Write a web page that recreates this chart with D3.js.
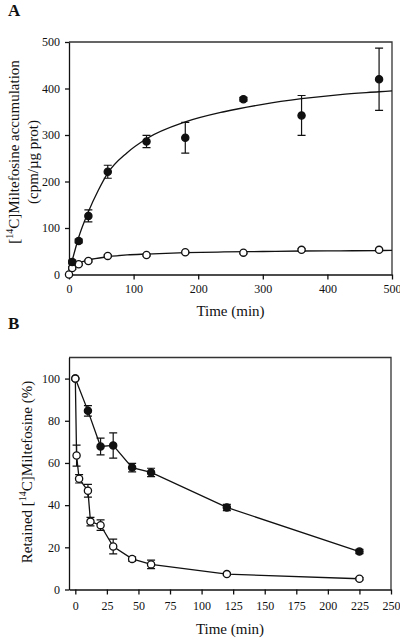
<!DOCTYPE html>
<html><head><meta charset="utf-8">
<script src="https://cdn.jsdelivr.net/npm/d3@7"></script>
<style>
body{margin:0;background:#fff;}
text{font-family:"Liberation Serif","Times New Roman",serif;fill:#111;}
</style></head>
<body><svg id="c" width="400" height="638"></svg>
<script>
// Panel A data
const aTicksX = [0,100,200,300,400,500];
const aTicksY = [0,100,200,300,400,500];
const aFilledT = [5,15,30,60,120,180,270,360,480];
const aFilledV = [27,72,126,221,286,294,377,342,420];
const aFilledE = [4,4,13,14,13,33,4,43,67];
const aOpenT = [0,5,15,30,60,120,180,270,360,480];
const aOpenV = [0,14,22,29,40,42,48,47,53,53];
const aOpenE = [0,3,2,2,2,2,2,2,2,2];
const aFitFilledT = [0,5,10,15,30,45,60,90,120,180,240,300,360,420,480,500];
const aFitFilledV = [0,30,56,80,135,180,218,262,292,328,350,366,378,387,393,395];
const aFitOpenT = [0,5,10,15,30,60,90,120,180,240,300,360,420,480,500];
const aFitOpenV = [0,12,19,24,31,38,42,44,47,48.5,49.5,50.5,51,51.5,52];
// Panel B data
const bTicksX = [0,25,50,75,100,125,150,175,200,225,250];
const bTicksY = [0,20,40,60,80,100];
const bFilledT = [0,10,20,30,45,60,120,225];
const bFilledV = [100,84.7,67.8,68.3,57.8,55.5,38.9,18];
const bFilledE = [0,2.5,4,6,2,2,1.5,1];
const bOpenT = [0,1,3,10,12,20,30,45,60,120,225];
const bOpenV = [100,63.5,52.5,46.8,32.2,30.5,20.4,14.5,11.9,7.3,5.1];
const bOpenE = [0,5,2,3,2,2.5,3.5,1,2,0.5,0.5];

const svg = d3.select("#c");
const ink = "#111";

function frame(x, y){
  const [x0,x1] = x.range(), [y0,y1] = y.range();
  svg.append("path").attr("d",`M${x0},${y1}H${x1}V${y0}`).attr("fill","none").attr("stroke","#333").attr("stroke-width",1.3);
}
function axes(x, y, tx, ty, pad){
  const gx = svg.append("g").attr("transform",`translate(0,${y.range()[0]})`)
    .call(d3.axisBottom(x).tickValues(tx).tickSize(5).tickSizeOuter(0).tickPadding(pad).tickFormat(d3.format("d")));
  const gy = svg.append("g").attr("transform",`translate(${x.range()[0]},0)`)
    .call(d3.axisLeft(y).tickValues(ty).tickSize(4).tickSizeOuter(0).tickPadding(5).tickFormat(d3.format("d")));
  [gx,gy].forEach(g=>{
    g.selectAll("path,line").attr("stroke",ink).attr("stroke-width",1.3);
    g.selectAll("text").attr("font-size",12).attr("font-family","Liberation Serif, serif").attr("fill",ink);
  });
}
function errs(x, y, T, V, E){
  T.forEach((t,i)=>{
    if(!E[i]) return;
    const cx = x(t), ya = y(V[i]+E[i]), yb = y(V[i]-E[i]);
    svg.append("path").attr("d",`M${cx},${ya}V${yb}M${cx-4},${ya}H${cx+4}M${cx-4},${yb}H${cx+4}`)
      .attr("stroke",ink).attr("stroke-width",1.2).attr("fill","none");
  });
}
function pts(x, y, T, V, filled){
  svg.append("g").selectAll("circle").data(T).join("circle")
    .attr("cx",d=>x(d)).attr("cy",(d,i)=>y(V[i])).attr("r",3.6)
    .attr("fill",filled?ink:"#fff").attr("stroke",ink).attr("stroke-width",1.3);
}
function line(x, y, T, V, curve){
  const l = d3.line().x(d=>x(d[0])).y(d=>y(d[1])).curve(curve||d3.curveLinear);
  svg.append("path").attr("d",l(T.map((t,i)=>[t,V[i]]))).attr("fill","none").attr("stroke",ink).attr("stroke-width",1.3);
}

// Panel A
const xA = d3.scaleLinear().domain([0,500]).range([69,392]);
const yA = d3.scaleLinear().domain([0,500]).range([274.5,42]);
frame(xA,yA);
axes(xA,yA,aTicksX,aTicksY,5);
line(xA,yA,aFitFilledT,aFitFilledV,d3.curveMonotoneX);
line(xA,yA,aFitOpenT,aFitOpenV,d3.curveMonotoneX);
errs(xA,yA,aFilledT,aFilledV,aFilledE);
errs(xA,yA,aOpenT,aOpenV,aOpenE);
pts(xA,yA,aOpenT,aOpenV,false);
pts(xA,yA,aFilledT,aFilledV,true);

svg.append("text").attr("x",8).attr("y",16).attr("font-size",17).attr("font-weight","bold").text("A");
svg.append("text").attr("x",230.5).attr("y",316).attr("text-anchor","middle").attr("font-size",15).text("Time (min)");
const tA1 = svg.append("text").attr("transform","translate(19,152) rotate(-90)").attr("text-anchor","middle").attr("font-size",15);
tA1.append("tspan").text("[");
tA1.append("tspan").attr("font-size",10).attr("dy",-6).text("14");
tA1.append("tspan").attr("dy",6).text("C]Miltefosine accumulation");
svg.append("text").attr("transform","translate(38,162) rotate(-90)").attr("text-anchor","middle").attr("font-size",15).text("(cpm/µg prot)");

// Panel B
const xB = d3.scaleLinear().domain([-5,250]).range([69,391]);
const yB = d3.scaleLinear().domain([0,110]).range([589.5,357.5]);
frame(xB,yB);
axes(xB,yB,bTicksX,bTicksY,7);
line(xB,yB,bFilledT,bFilledV);
line(xB,yB,bOpenT,bOpenV);
errs(xB,yB,bFilledT,bFilledV,bFilledE);
errs(xB,yB,bOpenT,bOpenV,bOpenE);
pts(xB,yB,bFilledT,bFilledV,true);
pts(xB,yB,bOpenT,bOpenV,false);

svg.append("text").attr("x",8).attr("y",329).attr("font-size",17).attr("font-weight","bold").text("B");
svg.append("text").attr("x",230).attr("y",634).attr("text-anchor","middle").attr("font-size",15).text("Time (min)");
const tB = svg.append("text").attr("transform","translate(32,472) rotate(-90)").attr("text-anchor","middle").attr("font-size",15);
tB.append("tspan").text("Retained [");
tB.append("tspan").attr("font-size",10).attr("dy",-6).text("14");
tB.append("tspan").attr("dy",6).text("C]Miltefosine (%)");
</script></body></html>
